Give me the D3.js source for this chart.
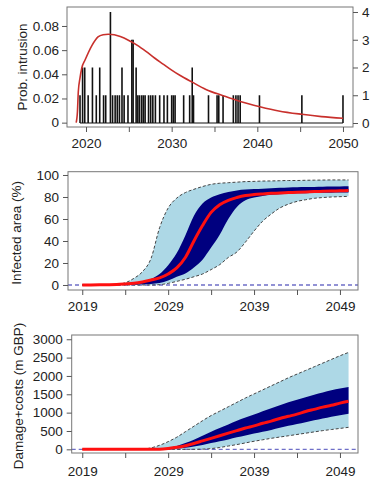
<!DOCTYPE html>
<html lang="en">
<head>
<meta charset="UTF-8">
<style>
    body{
        margin:0;
        background:#fff;
        font-family:"Liberation Sans", Arial, sans-serif;
    }
    .frame{
        fill:none;
        stroke:#777;
        stroke-width:1;
    }
    .axis path{ display:none; }
    .axis line{ stroke:#555; }
    .axis text{
        font-family:"Liberation Sans", Arial, sans-serif;
        font-size:13.5px;
        fill:#222;
    }
    .ytitle{
        font-size:13.5px;
        fill:#222;
    }
</style>
<script src="https://d3js.org/d3.v7.min.js"></script>
</head>
<body>
<svg id="chart" width="390" height="480"></svg>
<script>
    // ---- top panel: intrusion events + probability curve
    var eventYears = [2019.3, 2019.6, 2019.85, 2020.25, 2020.75, 2021.2, 2021.6, 2022.05, 2022.3, 2022.85,
        2023.1, 2023.4, 2023.65, 2023.9, 2024.2, 2024.45, 2024.9, 2025.35, 2025.5, 2025.85,
        2026.05, 2026.25, 2026.5, 2026.7, 2026.9, 2027.3, 2027.55, 2027.8, 2028.1, 2028.6,
        2029.1, 2029.5, 2030.0, 2030.2, 2030.4, 2031.4, 2032.1, 2032.4, 2032.55, 2034.3,
        2035.3, 2035.5, 2036.0, 2037.2, 2037.5, 2037.75, 2038.0, 2040.25, 2045.2, 2050.0];
    var eventCounts = [1, 2, 2, 1, 2, 1, 2, 1, 1, 4,
        1, 1, 1, 1, 2, 1, 1, 3, 3, 2,
        1, 1, 1, 1, 1, 1, 1, 1, 1, 1,
        1, 1, 1, 1, 1, 1, 1, 2, 1, 1,
        1, 1, 1, 1, 1, 1, 1, 1, 1, 1];
    var curveYears = [2018.85, 2019.0, 2019.1, 2019.3, 2019.5, 2019.9, 2020.7, 2021.4, 2022.0, 2022.6,
        2023.3, 2024.0, 2025.0, 2026.0, 2027.0, 2028.0, 2029.0, 2030.0, 2031.0, 2032.4,
        2034.0, 2036.0, 2038.0, 2040.3, 2042.5, 2045.2, 2047.5, 2050.0];
    var curveProb = [0, 0.009, 0.0256, 0.037, 0.045, 0.052, 0.064, 0.071, 0.0728, 0.0732,
        0.0727, 0.0712, 0.068, 0.064, 0.059, 0.0535, 0.0485, 0.0435, 0.039, 0.0335,
        0.0275, 0.0223, 0.0175, 0.0132, 0.0097, 0.0069, 0.005, 0.0036];
    var probTicks = [0, 0.02, 0.04, 0.06, 0.08];
    var countTicks = [0, 1, 2, 3, 4];
    var topYearTicks = [2020, 2025, 2030, 2035, 2040, 2045, 2050];
    var topYearLabels = [2020, 2030, 2040, 2050];

    // ---- lower panels: yearly quantile bands
    var years = [2019, 2020, 2021, 2022, 2023, 2024, 2025, 2026, 2027, 2028,
        2029, 2030, 2031, 2032, 2033, 2034, 2035, 2036, 2037, 2038,
        2039, 2040, 2041, 2042, 2043, 2044, 2045, 2046, 2047, 2048, 2049, 2050];
    var yearTicks = [2019, 2024, 2029, 2034, 2039, 2044, 2049];
    var yearLabels = [2019, 2029, 2039, 2049];

    var areaOuterHi = [0, 0, 0, 0, 0.5, 2, 6, 12, 24, 52,
        70, 79, 84, 87, 89.5, 91.5, 92.5, 93, 93.5, 94,
        94.2, 94.5, 94.6, 94.8, 95, 95, 95.2, 95.3, 95.4, 95.5, 95.5, 95.5];
    var areaInnerHi = [0, 0, 0, 0, 0.2, 0.5, 1.5, 3, 5.5, 10,
        18, 29, 45, 63, 74, 79.5, 82.5, 84.5, 86, 86.8,
        87.3, 87.6, 88, 88.3, 88.6, 88.8, 89, 89.2, 89.4, 89.5, 89.6, 89.7];
    var areaMedian = [0, 0.1, 0.2, 0.3, 0.5, 1, 1.6, 2.8, 4.5, 6.4,
        10, 15.5, 25, 40, 54, 66, 73, 77, 79.5, 81.3,
        82.2, 82.8, 83.3, 83.6, 84, 84.3, 84.6, 84.9, 85.2, 85.4, 85.6, 85.8];
    var areaInnerLo = [0, 0, 0, 0, 0, 0.1, 0.2, 0.4, 1, 1.8,
        4, 7.5, 10.5, 16, 23, 34, 45.7, 60, 71, 77,
        79.5, 81, 82, 82.5, 83, 83.3, 83.5, 83.7, 83.8, 83.9, 84, 84];
    var areaOuterLo = [0, 0, 0, 0, 0, 0, 0, 0, 0, 0.3,
        1.5, 3.3, 5.2, 7.5, 10, 14, 18.5, 25, 30, 39,
        49, 58, 64.5, 70, 73.5, 76, 77.5, 78.8, 79.5, 80, 80.3, 80.6];
    var areaTicks = [0, 20, 40, 60, 80, 100];

    var costOuterHi = [0, 0, 0, 0, 0, 0, 0, 5, 40, 110,
        210, 330, 480, 630, 780, 920, 1040, 1160, 1280, 1400,
        1510, 1620, 1730, 1840, 1950, 2050, 2150, 2250, 2350, 2450, 2550, 2640];
    var costInnerHi = [0, 0, 0, 0, 0, 0, 0, 0, 0, 10,
        40, 90, 170, 260, 370, 480, 580, 680, 780, 870,
        950, 1040, 1120, 1200, 1280, 1350, 1420, 1490, 1550, 1610, 1660, 1700];
    var costMedian = [0, 0, 0, 0, 0, 0, 0, 0, 0, 5,
        25, 55, 100, 160, 230, 300, 370, 440, 510, 580,
        640, 710, 770, 840, 900, 960, 1030, 1090, 1150, 1200, 1260, 1310];
    var costInnerLo = [0, 0, 0, 0, 0, 0, 0, 0, 0, 0,
        5, 20, 45, 80, 120, 170, 220, 270, 330, 380,
        430, 480, 530, 590, 640, 690, 740, 790, 840, 890, 930, 970];
    var costOuterLo = [0, 0, 0, 0, 0, 0, 0, 0, 0, 0,
        0, 0, 0, 0, 5, 20, 50, 90, 130, 175,
        220, 260, 300, 335, 370, 405, 440, 475, 510, 540, 570, 600];
    var costTicks = [0, 500, 1000, 1500, 2000, 2500, 3000];

    var svg = d3.select("#chart");

    function yearAxis(g, x, ticks, labels, pad) {
        g.attr("class", "axis")
            .call(d3.axisBottom(x).tickValues(ticks).tickSize(5).tickPadding(pad)
                .tickFormat(function(d) { return labels.indexOf(d) >= 0 ? d3.format("d")(d) : ""; }));
    }

    // ================= top panel
    var topBox = {left: 67, right: 353, top: 7, bottom: 127};
    var xT = d3.scaleLinear().domain([2017.78, 2051.17]).range([topBox.left, topBox.right]);
    var yP = d3.scaleLinear().domain([-0.0036, 0.0957]).range([topBox.bottom, topBox.top]);
    var yC = d3.scaleLinear().domain([-0.144, 4.18]).range([topBox.bottom, topBox.top]);

    var gT = svg.append("g");

    gT.append("line")
        .attr("x1", xT(d3.min(eventYears))).attr("x2", xT(d3.max(eventYears)))
        .attr("y1", yC(0)).attr("y2", yC(0))
        .attr("stroke", "#111").attr("stroke-width", 1);

    gT.selectAll(".ev")
        .data(eventYears)
        .enter().append("line")
        .attr("class", "ev")
        .attr("x1", function(d) { return xT(d); })
        .attr("x2", function(d) { return xT(d); })
        .attr("y1", yC(0))
        .attr("y2", function(d, i) { return yC(eventCounts[i]); })
        .attr("stroke", "#111")
        .attr("stroke-width", 1.6);

    var probLine = d3.line()
        .x(function(d, i) { return xT(curveYears[i]); })
        .y(function(d) { return yP(d); })
        .curve(d3.curveMonotoneX);

    gT.append("path")
        .datum(curveProb)
        .attr("d", probLine)
        .attr("fill", "none")
        .attr("stroke", "#c8302c")
        .attr("stroke-width", 1.6);

    gT.append("rect").attr("class", "frame")
        .attr("x", topBox.left).attr("y", topBox.top)
        .attr("width", topBox.right - topBox.left).attr("height", topBox.bottom - topBox.top);

    gT.append("g").attr("class", "axis")
        .attr("transform", "translate(" + topBox.left + ",0)")
        .call(d3.axisLeft(yP).tickValues(probTicks).tickSize(5).tickPadding(3)
            .tickFormat(function(d) { return d === 0 ? "0" : d3.format(".2f")(d); }));

    gT.append("g").attr("class", "axis")
        .attr("transform", "translate(" + topBox.right + ",0)")
        .call(d3.axisRight(yC).tickValues(countTicks).tickSize(5).tickPadding(4).tickFormat(d3.format("d")));

    gT.append("g")
        .attr("transform", "translate(0," + topBox.bottom + ")")
        .call(yearAxis, xT, topYearTicks, topYearLabels, 6);

    gT.append("text").attr("class", "ytitle")
        .attr("transform", "translate(27," + ((topBox.top + topBox.bottom) / 2) + ") rotate(-90)")
        .attr("text-anchor", "middle")
        .text("Prob. intrusion");

    // ================= band panels
    function bandPanel(box, yDomain, yTicks, outerHi, innerHi, median, innerLo, outerLo, title, titleX, labPad) {
        var x = d3.scaleLinear().domain([2017.34 + (box.left - 68) / 8.59, 2051.1]).range([box.left, box.right]);
        var y = d3.scaleLinear().domain(yDomain).range([box.bottom, box.top]);
        var g = svg.append("g");

        var band = function(lo, hi) {
            return d3.area()
                .x(function(d, i) { return x(years[i]); })
                .y0(function(d, i) { return y(lo[i]); })
                .y1(function(d, i) { return y(hi[i]); })
                .curve(d3.curveMonotoneX);
        };
        var line = d3.line()
            .x(function(d, i) { return x(years[i]); })
            .y(function(d) { return y(d); })
            .curve(d3.curveMonotoneX);

        g.append("path").datum(years).attr("d", band(outerLo, outerHi)).attr("fill", "#add8e6");
        g.append("path").datum(years).attr("d", band(innerLo, innerHi)).attr("fill", "#00007f");

        g.append("line")
            .attr("x1", box.left).attr("x2", box.right)
            .attr("y1", y(0)).attr("y2", y(0))
            .attr("stroke", "#6f6fc8").attr("stroke-width", 1.3)
            .attr("stroke-dasharray", "4,3");

        [outerHi, outerLo].forEach(function(s) {
            g.append("path").datum(s).attr("d", line)
                .attr("fill", "none").attr("stroke", "#444")
                .attr("stroke-width", 1).attr("stroke-dasharray", "3,2");
        });

        g.append("path").datum(median).attr("d", line)
            .attr("fill", "none").attr("stroke", "#ff1010").attr("stroke-width", 3);

        g.append("rect").attr("class", "frame")
            .attr("x", box.left).attr("y", box.top)
            .attr("width", box.right - box.left).attr("height", box.bottom - box.top);

        g.append("g").attr("class", "axis")
            .attr("transform", "translate(" + box.left + ",0)")
            .call(d3.axisLeft(y).tickValues(yTicks).tickSize(5).tickPadding(4).tickFormat(d3.format("d")));

        g.append("g")
            .attr("transform", "translate(0," + box.bottom + ")")
            .call(yearAxis, x, yearTicks, yearLabels, labPad);

        g.append("text").attr("class", "ytitle")
            .attr("transform", "translate(" + titleX + "," + ((box.top + box.bottom) / 2 + 2) + ") rotate(-90)")
            .attr("text-anchor", "middle")
            .text(title);
    }

    bandPanel({left: 68, right: 358, top: 171.7, bottom: 290}, [-4.55, 103], areaTicks,
        areaOuterHi, areaInnerHi, areaMedian, areaInnerLo, areaOuterLo, "Infected area (%)", 21, 6);

    bandPanel({left: 71.7, right: 358, top: 335, bottom: 453}, [-100, 3116], costTicks,
        costOuterHi, costInnerHi, costMedian, costInnerLo, costOuterLo, "Damage+costs (m GBP)", 23, 8);
</script>
</body>
</html>
